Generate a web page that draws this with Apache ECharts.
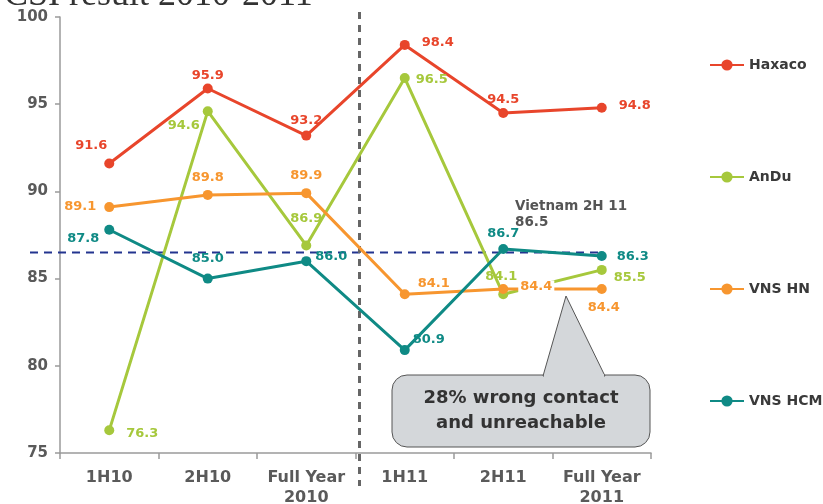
<!DOCTYPE html>
<html>
<head>
<meta charset="utf-8">
<script src="https://cdn.jsdelivr.net/npm/echarts@6/dist/echarts.min.js"></script>
<style>
  html, body { margin: 0; padding: 0; background: #fff; }
  #csi { width: 823px; height: 504px; }
</style>
</head>
<body>
<div id="csi"></div>
<script>
var periods = ['1H10', '2H10', 'Full Year\n2010', '1H11', '2H11', 'Full Year\n2011'];
var haxaco = [91.6, 95.9, 93.2, 98.4, 94.5, 94.8];
var andu = [76.3, 94.6, 86.9, 96.5, 84.1, 85.5];
var vnsHn = [89.1, 89.8, 89.9, 84.1, 84.4, 84.4];
var vnsHcm = [87.8, 85.0, 86.0, 80.9, 86.7, 86.3];
var vietnam2H11 = 86.5;
var yTicks = [75, 80, 85, 90, 95, 100];

var FONT = '"DejaVu Sans", Verdana, sans-serif';

// label placement per point: [position, distance, offsetX, offsetY]
var haxacoLbl = [['top',4,-18,-2], ['top',1,0,0], ['top',3,0,0], ['right',12,0,-2], ['top',2,0,0], ['right',12,0,-2]];
var anduLbl = [['right',12,0,3], ['left',3,0,14], ['top',15,0,0], ['right',6,0,2], ['top',6,-2,0], ['right',5,2,8]];
var hnLbl = [['left',8,0,0], ['top',6,0,0], ['top',6,0,0], ['right',8,0,-11], ['right',10,0,-2], ['bottom',7,2,0]];
var hcmLbl = [['left',5,0,9], ['top',8,0,0], ['right',4,0,-5], ['right',3,0,-10], ['top',4,0,0], ['right',10,0,1]];

function makeSeries(name, values, color, lbl, withBg) {
  return {
    name: name,
    type: 'line',
    symbol: 'circle',
    symbolSize: 10,
    lineStyle: { width: 3, color: color },
    itemStyle: { color: color },
    data: values.map(function (v, i) {
      var p = lbl[i];
      var label = {
        show: true,
        position: p[0],
        distance: p[1],
        offset: [p[2], p[3]],
        formatter: function (o) { return o.value.toFixed(1); },
        color: color,
        fontFamily: FONT,
        fontWeight: 'bold',
        fontSize: 13
      };
      if (withBg && withBg[i]) {
        label.backgroundColor = '#fff';
        label.padding = [0, 2];
      }
      return { value: v, label: label };
    })
  };
}

var chart = echarts.init(document.getElementById('csi'));

var option = {
  animation: false,
  grid: { left: 60, right: 172, top: 17, bottom: 51, outerBoundsMode: 'none' },
  legend: {
    orient: 'vertical',
    left: 704,
    top: 53,
    itemGap: 98,
    itemWidth: 34,
    itemHeight: 14,
    textStyle: { fontFamily: FONT, fontWeight: 'bold', fontSize: 14, color: '#3a3a3a' },
    data: ['Haxaco', 'AnDu', 'VNS HN', 'VNS HCM']
  },
  xAxis: {
    type: 'category',
    data: periods,
    boundaryGap: true,
    axisLine: { lineStyle: { color: '#9a9a9a', width: 1.5 } },
    axisTick: { show: true, length: 6, lineStyle: { color: '#9a9a9a', width: 1.5 } },
    axisLabel: {
      interval: 0,
      hideOverlap: false,
      margin: 15,
      fontFamily: FONT, fontWeight: 'bold', fontSize: 16, color: '#5a5a5a', lineHeight: 20
    }
  },
  yAxis: {
    type: 'value',
    min: yTicks[0],
    max: yTicks[yTicks.length - 1],
    interval: 5,
    axisLine: { show: true, lineStyle: { color: '#9a9a9a', width: 1.5 } },
    axisTick: { show: true, length: 5, lineStyle: { color: '#9a9a9a', width: 1.5 } },
    splitLine: { show: false },
    axisLabel: {
      margin: 12,
      fontFamily: FONT, fontWeight: 'bold', fontSize: 15, color: '#5a5a5a'
    }
  },
  series: [
    makeSeries('Haxaco', haxaco, '#e8452b', haxacoLbl),
    makeSeries('AnDu', andu, '#a6c83c', anduLbl),
    makeSeries('VNS HN', vnsHn, '#f7962f', hnLbl, [false, false, false, false, true, false]),
    makeSeries('VNS HCM', vnsHcm, '#0f8a85', hcmLbl)
  ]
};
chart.setOption(option);

// reference lines + notes placed through the axes
var yRef = chart.convertToPixel({ yAxisIndex: 0 }, vietnam2H11);
var xSplit = (chart.convertToPixel({ xAxisIndex: 0 }, 2) + chart.convertToPixel({ xAxisIndex: 0 }, 3)) / 2 + 4;

chart.setOption({
  graphic: [
    {
      type: 'text', left: 4, top: -22, silent: true,
      style: { text: 'CSI result 2010-2011', font: '36px "Liberation Serif", "DejaVu Serif", serif', fill: '#333' }
    },
    {
      type: 'line', z: 1, silent: true,
      shape: { x1: 30, y1: yRef, x2: 600, y2: yRef },
      style: { stroke: '#23348f', lineWidth: 2, lineDash: [8, 6] }
    },
    {
      type: 'line', z: 1, silent: true,
      shape: { x1: xSplit, y1: 12, x2: xSplit, y2: 486 },
      style: { stroke: '#666', lineWidth: 3, lineDash: [7, 6] }
    },
    {
      type: 'text', left: 515, top: 198, silent: true,
      style: {
        text: 'Vietnam 2H 11\n' + vietnam2H11.toFixed(1),
        font: 'bold 13.5px ' + FONT, fill: '#555', lineHeight: 16
      }
    },
    {
      type: 'group', silent: true,
      children: [
        {
          type: 'rect',
          shape: { x: 392, y: 375, width: 258, height: 72, r: 15 },
          style: { fill: '#d4d7da', stroke: '#555', lineWidth: 1 }
        },
        {
          type: 'polygon',
          shape: { points: [[543, 376], [566, 296], [605, 376]] },
          style: { fill: '#d4d7da', stroke: '#555', lineWidth: 1 }
        },
        {
          type: 'rect',
          shape: { x: 544, y: 374, width: 60, height: 3 },
          style: { fill: '#d4d7da' }
        },
        {
          type: 'text',
          style: {
            x: 521, y: 411, text: '28% wrong contact\nand unreachable',
            align: 'center', verticalAlign: 'middle',
            font: 'bold 18px ' + FONT, fill: '#333', lineHeight: 25
          }
        }
      ]
    }
  ]
});

window.addEventListener('resize', function () {
  chart.resize();
});
</script>
</body>
</html>
